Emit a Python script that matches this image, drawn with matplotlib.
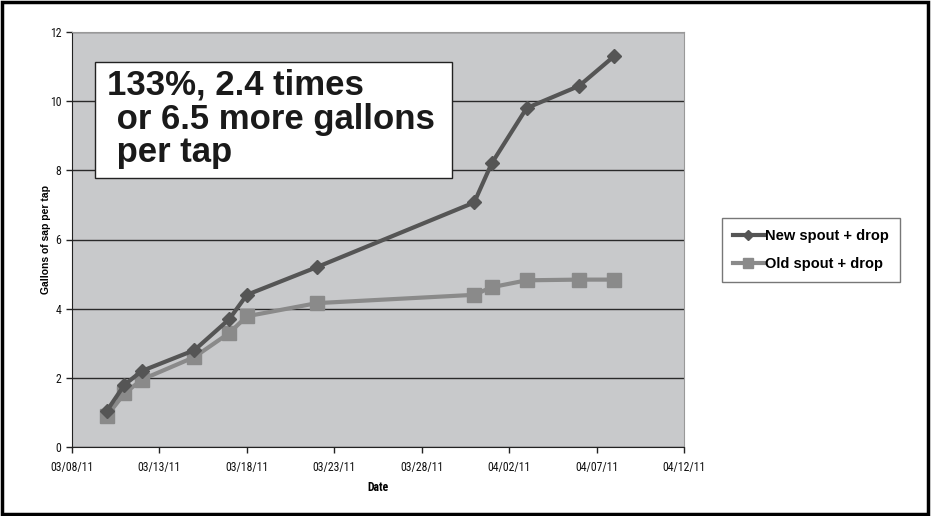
import matplotlib
matplotlib.use("Agg")
import matplotlib.pyplot as plt
import matplotlib.dates as mdates
from matplotlib import font_manager
from matplotlib.patches import Rectangle
import pandas as pd

# data
dates = ["2011-03-10", "2011-03-11", "2011-03-12", "2011-03-15", "2011-03-17",
         "2011-03-18", "2011-03-22", "2011-03-31", "2011-04-01", "2011-04-03",
         "2011-04-06", "2011-04-08"]
new_spout = [1.05, 1.8, 2.2, 2.8, 3.7, 4.4, 5.2, 7.07, 8.2, 9.8, 10.44, 11.3]
old_spout = [0.9, 1.55, 1.95, 2.6, 3.3, 3.78, 4.16, 4.4, 4.62, 4.82, 4.84, 4.84]
x_ticks = pd.date_range("2011-03-08", "2011-04-12", freq="5D")
y_ticks = [0, 2, 4, 6, 8, 10, 12]
note = "133%, 2.4 times\n or 6.5 more gallons\n per tap"

plt.rcParams["font.family"] = ["Liberation Sans", "DejaVu Sans"]

# narrow face for the axis labels if one is around
names = {f.name for f in font_manager.fontManager.ttflist}
narrow = None
for cand in ["Liberation Sans Narrow", "DejaVu Sans Condensed", "Roboto Condensed"]:
    if cand in names:
        narrow = cand
        break
if narrow is None:
    cond = [f for f in font_manager.fontManager.ttflist
            if f.stretch in ("condensed", "semi-condensed", 400, 300)]
    narrow = cond[0].name if cond else "Liberation Sans"
tick_size = 8.5 if narrow != "Liberation Sans" else 7.5

fig = plt.figure(figsize=(9.32, 5.16), dpi=100)
ax = fig.add_axes([72 / 932, 1 - 447 / 516, 612 / 932, 415 / 516])
ax.set_facecolor("#c8c9cb")

d = pd.to_datetime(dates)
ax.plot(d, new_spout, color="#555555", lw=3, marker="D", ms=7.5,
        label="New spout + drop", zorder=4)
ax.plot(d, old_spout, color="#8a8a8a", lw=3, marker="s", ms=9.5,
        label="Old spout + drop", zorder=3)

ax.set_xlim(x_ticks[0], x_ticks[-1])
ax.set_ylim(0, 12)
ax.set_xticks(x_ticks)
ax.xaxis.set_major_formatter(mdates.DateFormatter("%m/%d/%y"))
ax.set_yticks(y_ticks)
ax.grid(axis="y", color="#2a2a2a", lw=1.0)
ax.set_axisbelow(True)

for lab in ax.get_xticklabels() + ax.get_yticklabels():
    lab.set_family([narrow, "Liberation Sans"])
    lab.set_fontsize(tick_size)
    lab.set_color("#111111")
ax.tick_params(axis="both", direction="out", length=4, width=1, color="#222222")
ax.tick_params(axis="x", pad=6)

for s in ["top", "right"]:
    ax.spines[s].set_color("#999999")
    ax.spines[s].set_linewidth(0.8)
ax.spines["left"].set_color("#222222")
ax.spines["bottom"].set_color("#222222")

ax.set_xlabel("Date", fontsize=tick_size, fontweight="bold",
              family=[narrow, "Liberation Sans"], labelpad=5)
ax.set_ylabel("Gallons of sap per tap", fontsize=7.5, fontweight="bold")
ax.yaxis.set_label_coords((51 - 72) / 612, 0.5)

# white note box
ax.add_patch(Rectangle((23 / 612, (447 - 178) / 415), 357 / 612, 116 / 415,
                       transform=ax.transAxes, facecolor="white",
                       edgecolor="#222222", lw=1, zorder=5))
ax.text(35 / 612, (447 - 69) / 415, note, transform=ax.transAxes,
        fontsize=25, fontweight="bold", va="top", ha="left",
        color="#1a1a1a", linespacing=1.02, zorder=6)

leg = fig.legend(loc="center left", bbox_to_anchor=(722 / 932, 1 - 250 / 516),
                 frameon=True, fancybox=False, edgecolor="#555555",
                 prop={"weight": "bold", "size": 10.5}, handlelength=2.1,
                 handletextpad=0.1, borderpad=0.75, labelspacing=1.0,
                 borderaxespad=0, markerscale=0.7)
leg.get_frame().set_linewidth(1)

fig.add_artist(Rectangle((0.002, 0.003), 0.994, 0.994, transform=fig.transFigure,
                         fill=False, edgecolor="black", lw=2.5))

fig.savefig("out.png", dpi=100, facecolor="white")
